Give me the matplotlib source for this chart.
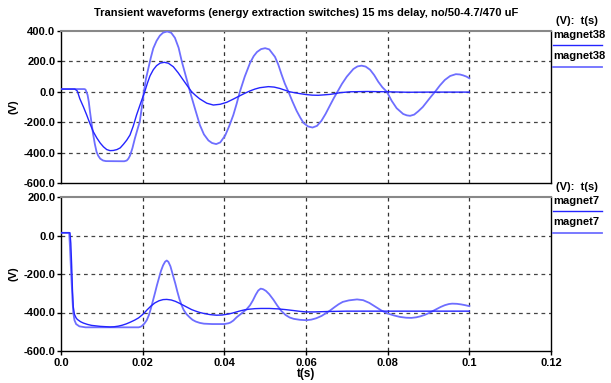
import matplotlib
matplotlib.use("Agg")
import matplotlib.pyplot as plt

plt.rcParams['font.family'] = ['Liberation Sans', 'DejaVu Sans']
plt.rcParams['axes.unicode_minus'] = False

# ---------------- data ----------------
title = "Transient waveforms (energy extraction switches) 15 ms delay, no/50-4.7/470 uF"

# top panel, dark curve (magnet38, first)
t_top_a = [0.0, 0.0034, 0.004, 0.0046, 0.0055, 0.0063, 0.0071, 0.0079, 0.0088, 0.0096,
           0.0104, 0.0112, 0.012, 0.0128, 0.0137, 0.0145, 0.0153, 0.0161, 0.0169, 0.0177,
           0.0185, 0.0195, 0.0205, 0.0212, 0.0218, 0.0226, 0.0234, 0.0243, 0.0253, 0.0263,
           0.0275, 0.0287, 0.030, 0.031, 0.032, 0.033, 0.034, 0.0357, 0.0373, 0.039,
           0.0406, 0.0422, 0.0438, 0.045, 0.0463, 0.0475, 0.0487, 0.0508, 0.0522, 0.0536,
           0.0548, 0.056, 0.0572, 0.0585, 0.060, 0.0615, 0.063, 0.0645, 0.0659, 0.0671,
           0.0683, 0.0708, 0.075, 0.080, 0.085, 0.090, 0.095, 0.1]
v_top_a = [18, 18, 5, -45, -100, -153, -210, -262, -305, -337,
           -362, -380, -387, -386, -380, -369, -345, -318, -284, -225,
           -153, -75, 0, 60, 105, 145, 172, 189, 194, 188,
           165, 125, 75, 37, 0, -25, -47, -75, -87, -82,
           -69, -48, -26, -10, 6, 18, 27, 34, 31, 22,
           11, 0, -6, -12, -18, -22, -23, -20, -17, -12,
           -6, 0, 2, 0, -3, -2, -2, -2]

# top panel, light curve (magnet38, second)
t_top_b = [0.0, 0.0057, 0.006, 0.0065, 0.0068, 0.0071, 0.0075, 0.0079, 0.0083, 0.0087,
           0.0091, 0.0096, 0.0103, 0.011, 0.0155, 0.0161, 0.0165, 0.0169, 0.0175, 0.0181,
           0.0187, 0.0193, 0.0198, 0.0203, 0.0208, 0.0214, 0.022, 0.0226, 0.0234, 0.0242,
           0.025, 0.026, 0.027, 0.0279, 0.0288, 0.0296, 0.0306, 0.0316, 0.0328, 0.034,
           0.035, 0.0361, 0.037, 0.038, 0.039, 0.0402, 0.0412, 0.0422, 0.043, 0.0438,
           0.045, 0.0463, 0.0472, 0.048, 0.049, 0.050, 0.051, 0.0524, 0.0532, 0.054,
           0.0548, 0.0557, 0.0567, 0.0577, 0.0586, 0.0594, 0.0605, 0.0616, 0.0627, 0.0638,
           0.0648, 0.0659, 0.0668, 0.0677, 0.0688, 0.070, 0.0716, 0.0726, 0.0736, 0.0746,
           0.0757, 0.0767, 0.0777, 0.0787, 0.0798, 0.081, 0.0822, 0.0838, 0.0847, 0.0855,
           0.0865, 0.0875, 0.0886, 0.0896, 0.0906, 0.0916, 0.0928, 0.094, 0.0953, 0.0967,
           0.0977, 0.0985, 0.0993, 0.1]
v_top_b = [18, 18, 15, -20, -65, -131, -210, -284, -345, -394,
           -420, -440, -452, -456, -457, -452, -440, -420, -370, -306,
           -250, -195, -100, 0, 85, 155, 225, 286, 335, 369,
           389, 397, 388, 355, 290, 198, 100, 0, -110, -218,
           -280, -320, -337, -344, -333, -288, -225, -153, -80, 0,
           100, 190, 235, 262, 281, 287, 279, 230, 180, 115,
           55, 0, -65, -125, -170, -205, -228, -235, -224, -190,
           -145, -88, -42, 0, 52, 100, 150, 167, 172, 166,
           145, 110, 66, 30, 0, -60, -108, -146, -155, -158,
           -150, -128, -100, -66, -32, 0, 42, 78, 104, 116,
           114, 108, 100, 89]

# bottom panel, dark curve (magnet7, first)
t_bot_a = [0.0, 0.0022, 0.0024, 0.0026, 0.0028, 0.003, 0.0033, 0.0037, 0.004, 0.0048,
           0.0055, 0.0065, 0.0075, 0.0096, 0.012, 0.013, 0.014, 0.015, 0.016, 0.017,
           0.018, 0.019, 0.0198, 0.0205, 0.021, 0.022, 0.023, 0.024, 0.025, 0.0259,
           0.027, 0.028, 0.029, 0.030, 0.031, 0.032, 0.033, 0.034, 0.035, 0.0365,
           0.0381, 0.0395, 0.041, 0.042, 0.043, 0.044, 0.045, 0.046, 0.0475, 0.049,
           0.051, 0.053, 0.055, 0.057, 0.0585, 0.060, 0.062, 0.065, 0.070, 0.080,
           0.090, 0.1]
v_bot_a = [14, 14, -40, -150, -280, -370, -410, -428, -436, -448,
           -455, -462, -467, -472, -475, -474, -471, -466, -459, -450,
           -440, -428, -414, -400, -388, -367, -350, -339, -333, -332,
           -335, -342, -352, -363, -374, -385, -393, -400, -405, -411,
           -414, -413, -408, -403, -397, -391, -386, -383, -380, -379,
           -379, -381, -385, -390, -394, -397, -397, -395, -393, -393,
           -393, -393]

# bottom panel, light curve (magnet7, second)
t_bot_b = [0.0, 0.002, 0.0022, 0.0025, 0.0028, 0.003, 0.0033, 0.0037, 0.0045, 0.006,
           0.019, 0.0195, 0.0198, 0.0204, 0.021, 0.0215, 0.022, 0.0225, 0.023, 0.0235,
           0.024, 0.0245, 0.025, 0.0255, 0.0259, 0.0263, 0.0268, 0.0274, 0.028, 0.0285,
           0.029, 0.0295, 0.030, 0.0307, 0.0315, 0.0322, 0.033, 0.034, 0.035, 0.037,
           0.040, 0.041, 0.0415, 0.0422, 0.043, 0.0442, 0.0455, 0.0463, 0.047, 0.0477,
           0.0483, 0.0489, 0.0495, 0.0502, 0.051, 0.052, 0.053, 0.054, 0.055, 0.056,
           0.057, 0.0585, 0.0601, 0.0613, 0.0625, 0.0638, 0.065, 0.066, 0.067, 0.068,
           0.069, 0.0705, 0.0725, 0.074, 0.0755, 0.077, 0.0785, 0.080, 0.0815, 0.083,
           0.0845, 0.0858, 0.087, 0.088, 0.089, 0.090, 0.091, 0.092, 0.093, 0.094,
           0.095, 0.0958, 0.097, 0.098, 0.099, 0.1]
v_bot_b = [14, 14, -60, -200, -330, -400, -440, -460, -472, -477,
           -477, -474, -470, -458, -440, -415, -380, -340, -300, -258,
           -220, -183, -155, -136, -130, -137, -160, -205, -250, -292,
           -330, -360, -385, -408, -425, -438, -447, -454, -458, -460,
           -460, -456, -452, -442, -425, -405, -382, -362, -337, -307,
           -286, -276, -279, -288, -305, -333, -365, -393, -413, -426,
           -433, -438, -440, -437, -430, -418, -402, -388, -372, -357,
           -345, -337, -332, -336, -350, -370, -390, -405, -415, -423,
           -427, -428, -425, -420, -413, -404, -393, -382, -371, -362,
           -356, -354, -355, -358, -362, -367]

x_ticks = [0.0, 0.02, 0.04, 0.06, 0.08, 0.1, 0.12]
x_tick_labels = ["0.0", "0.02", "0.04", "0.06", "0.08", "0.1", "0.12"]
y_ticks_top = [-600, -400, -200, 0, 200, 400]
y_ticks_bot = [-600, -400, -200, 0, 200]
legend_top = ["magnet38", "magnet38"]
legend_bot = ["magnet7", "magnet7"]

# ---------------- styling ----------------
W, H = 611, 383
DARK = '#2424ff'
LIGHT = '#6e6eff'
FS = 8

fig = plt.figure(figsize=(W / 100, H / 100), dpi=100)

def px_axes(x0, y0, x1, y1):
    return fig.add_axes([x0 / W, 1 - y1 / H, (x1 - x0) / W, (y1 - y0) / H])

ax_top = px_axes(61, 31, 551, 183)
ax_bot = px_axes(61, 197, 551, 351)

def style(ax, yticks, show_x):
    ax.set_xlim(0, 0.12)
    ax.set_ylim(min(yticks), max(yticks))
    ax.set_xticks(x_ticks)
    ax.set_yticks(yticks)
    ax.set_yticklabels(["%.1f" % v for v in yticks], fontsize=FS, fontweight='bold')
    if show_x:
        ax.set_xticklabels(x_tick_labels, fontsize=FS, fontweight='bold')
    else:
        ax.set_xticklabels([])
    ax.tick_params(direction='out', length=3, width=1, pad=1, colors='black')
    ax.tick_params(axis='x', length=3 if show_x else 0, pad=2)
    for xv in x_ticks[1:-1]:
        ax.axvline(xv, color='#333333', lw=0.9, ls=(0, (3, 3)), zorder=1)
    for yv in yticks[1:-1]:
        ax.axhline(yv, color='#444444', lw=0.9, ls=(0, (3, 3)), zorder=1)
    for side in ['left', 'bottom', 'right']:
        ax.spines[side].set_color('black')
        ax.spines[side].set_linewidth(1.0)
    ax.spines['top'].set_color('#888888')
    ax.spines['top'].set_linewidth(1.5)
    ax.set_ylabel("(V)", fontsize=FS, fontweight='bold', labelpad=4)

style(ax_top, y_ticks_top, False)
style(ax_bot, y_ticks_bot, True)
ax_bot.set_xlabel("t(s)", fontsize=FS + 0.5, fontweight='bold', labelpad=0)

ax_top.plot(t_top_b, v_top_b, color=LIGHT, lw=1.3, zorder=3)
ax_top.plot(t_top_a, v_top_a, color=DARK, lw=1.0, zorder=4)
ax_bot.plot(t_bot_b, v_bot_b, color=LIGHT, lw=1.3, zorder=3)
ax_bot.plot(t_bot_a, v_bot_a, color=DARK, lw=1.0, zorder=4)

fig.text(306 / W, 1 - 13 / H, title, ha='center', va='center', fontsize=FS, fontweight='bold')

def legend(top_px, names):
    def t(x, y, s):
        fig.text(x / W, 1 - y / H, s, ha='left', va='center', fontsize=FS, fontweight='bold')
    def ln(y, c, lw):
        fig.add_artist(plt.Line2D([553 / W, 602 / W], [1 - y / H, 1 - y / H], color=c, lw=lw))
    t(556, top_px - 9.5, "(V):  t(s)")
    t(553, top_px + 4.5, names[0])
    ln(top_px + 13.7, DARK, 1.0)
    t(553, top_px + 25.3, names[1])
    ln(top_px + 36, LIGHT, 1.3)

legend(31, legend_top)
legend(197, legend_bot)

fig.savefig("out.png", dpi=100)
